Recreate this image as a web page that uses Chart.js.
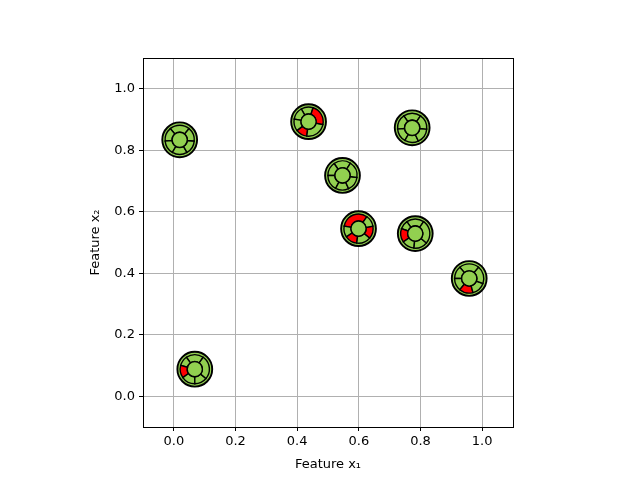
<!DOCTYPE html>
<html lang="en">

<head>
    <meta charset="UTF-8">
    <title>Glyph Scatter</title>
    <script src="https://cdn.jsdelivr.net/npm/chart.js"></script>
    <style>
        body { margin: 0; background: #fff; }
    </style>
</head>

<body>
    <canvas id="glyphChart" width="640" height="480"></canvas>

    <script>
        // Point positions
        const featureX1 = [0.019, 0.437, 0.547, 0.773, 0.599, 0.783, 0.958, 0.068];
        const featureX2 = [0.834, 0.893, 0.718, 0.873, 0.545, 0.529, 0.383, 0.088];
        // ring segment edges of each glyph, degrees counter-clockwise from 3 o'clock
        const segAngles = [
            [50, 130, 185, 240, 300, 355, 410],
            [72, 120, 170, 218, 263, 349, 432],
            [57, 125, 180, 242, 295, 352, 417],
            [55, 125, 185, 240, 295, 355, 415],
            [55, 170, 214, 263, 320, 370, 415],
            [55, 125, 160, 215, 265, 320, 415],
            [50, 130, 180, 230, 285, 340, 410],
            [55, 125, 165, 215, 270, 320, 415]
        ];
        // which of those segments are red
        const redSegments = [[], [3, 5], [], [], [0, 2, 4], [2], [3], [2]];
        const xTicks = [0.0, 0.2, 0.4, 0.6, 0.8, 1.0];
        const yTicks = [0.0, 0.2, 0.4, 0.6, 0.8, 1.0];

        const green = '#92d050';

        function drawGlyph(g, cx, cy, edges, reds) {
            g.save();
            g.strokeStyle = '#000';

            g.beginPath();
            g.arc(cx, cy, 17.4, 0, Math.PI * 2);
            g.fillStyle = green;
            g.fill();
            g.lineWidth = 1.9;
            g.stroke();

            for (let i = 0; i < edges.length - 1; i++) {
                const a0 = -edges[i] * Math.PI / 180;
                const a1 = -edges[i + 1] * Math.PI / 180;
                g.beginPath();
                g.arc(cx, cy, 14.6, a0, a1, true);
                g.arc(cx, cy, 7.6, a1, a0, false);
                g.closePath();
                g.fillStyle = reds.includes(i) ? '#ff0000' : green;
                g.fill();
                g.lineWidth = 1.4;
                g.stroke();
            }

            g.beginPath();
            g.arc(cx, cy, 7.6, 0, Math.PI * 2);
            g.fillStyle = green;
            g.fill();
            g.lineWidth = 1.4;
            g.stroke();
            g.restore();
        }

        // draws a glyph at every point the scatter dataset placed
        const glyphPlugin = {
            id: 'glyphs',
            afterDatasetsDraw(chart) {
                const meta = chart.getDatasetMeta(0);
                meta.data.forEach((pt, i) => {
                    drawGlyph(chart.ctx, pt.x, pt.y, segAngles[i], redSegments[i]);
                });
            }
        };

        // box around the plot area like matplotlib spines
        const frame = {
            id: 'frame',
            afterDraw(chart) {
                const a = chart.chartArea;
                const ctx = chart.ctx;
                ctx.save();
                ctx.strokeStyle = '#000';
                ctx.lineWidth = 1;
                ctx.strokeRect(a.left + 0.5, a.top + 0.5, a.right - a.left, a.bottom - a.top);
                ctx.restore();
            }
        };

        const points = featureX1.map((x, i) => ({ x: x, y: featureX2[i] }));
        const font = { family: 'DejaVu Sans', size: 13 };

        new Chart(document.getElementById('glyphChart'), {
            type: 'scatter',
            data: {
                datasets: [{
                    data: points,
                    pointRadius: 0,
                    pointHoverRadius: 0
                }]
            },
            options: {
                responsive: false,
                animation: false,
                layout: { padding: { top: 58, right: 127, left: 88, bottom: 0 } },
                plugins: { legend: { display: false }, tooltip: { enabled: false } },
                scales: {
                    x: {
                        type: 'linear',
                        min: -0.1,
                        max: 1.1,
                        afterBuildTicks: s => { s.ticks = xTicks.map(v => ({ value: v })); },
                        afterFit: s => { s.height = 53; },
                        grid: { color: '#b0b0b0', tickColor: '#000', tickLength: 4 },
                        border: { display: false },
                        ticks: { color: '#000', font: font, padding: 3, maxRotation: 0, callback: v => v.toFixed(1) },
                        title: { display: true, text: 'Feature x\u2081', color: '#000', font: font, padding: { top: 0, bottom: 8 } }
                    },
                    y: {
                        type: 'linear',
                        min: -0.1,
                        max: 1.1,
                        afterBuildTicks: s => { s.ticks = yTicks.map(v => ({ value: v })); },
                        afterFit: s => { s.width = 55; },
                        grid: { color: '#b0b0b0', tickColor: '#000', tickLength: 4 },
                        border: { display: false },
                        ticks: { color: '#000', font: font, padding: 4, callback: v => v.toFixed(1) },
                        title: { display: true, text: 'Feature x\u2082', color: '#000', font: font, padding: { top: 0, bottom: 0 } }
                    }
                }
            },
            plugins: [glyphPlugin, frame]
        });
    </script>
</body>

</html>
